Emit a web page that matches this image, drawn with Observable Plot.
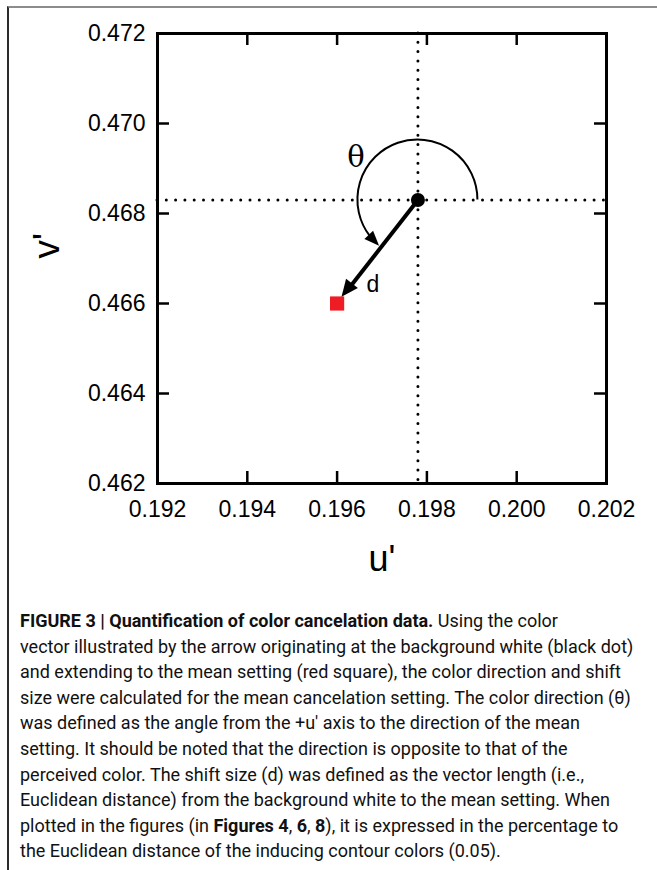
<!DOCTYPE html>
<html>
<head>
<meta charset="utf-8">
<script src="https://cdn.jsdelivr.net/npm/d3@7"></script>
<script src="https://cdn.jsdelivr.net/npm/@observablehq/plot@0.6"></script>
<style>
  html, body { margin: 0; padding: 0; background: #fff; }
  body { width: 657px; height: 870px; position: relative; overflow: hidden; }
  #box { position: absolute; left: 7px; top: 6px; right: -2px; bottom: -2px;
         border-top: 2px solid #8c8c8c; border-left: 2px solid #2b2b2b; }
  #chart { position: absolute; left: 0; top: 0; }
  #caption { position: absolute; left: 20px; top: 608px; font-family: "Liberation Sans Narrow", "Arial Narrow", "Roboto", sans-serif;
             font-size: 18px; line-height: 25.6px; color: #111; white-space: nowrap; }
  #caption b { font-weight: bold; }
</style>
</head>
<body>
<div id="box"></div>
<div id="chart"></div>
<div id="caption">
<div><b>FIGURE 3 | Quantification of color cancelation data.</b> Using the color</div>
<div>vector illustrated by the arrow originating at the background white (black dot)</div>
<div>and extending to the mean setting (red square), the color direction and shift</div>
<div>size were calculated for the mean cancelation setting. The color direction (θ)</div>
<div>was defined as the angle from the +u′ axis to the direction of the mean</div>
<div>setting. It should be noted that the direction is opposite to that of the</div>
<div>perceived color. The shift size (d) was defined as the vector length (i.e.,</div>
<div>Euclidean distance) from the background white to the mean setting. When</div>
<div>plotted in the figures (in <b>Figures 4</b>, <b>6</b>, <b>8</b>), it is expressed in the percentage to</div>
<div>the Euclidean distance of the inducing contour colors (0.05).</div>
</div>
<script>
// ---- data ----
const pointNames = ["background white", "mean setting"];
const uValues = [0.1978, 0.1960];
const vValues = [0.4683, 0.4660];
const xTicks = [0.192, 0.194, 0.196, 0.198, 0.200, 0.202];
const yTicks = [0.462, 0.464, 0.466, 0.468, 0.470, 0.472];
const xDomain = [0.192, 0.202];
const yDomain = [0.462, 0.472];
const xLabel = "u'";
const yLabel = "v'";
const angleLabel = "θ";
const lengthLabel = "d";

const W = 657, H = 600;
const mL = 157, mR = 51, mT = 33, mB = 117;
const fw = W - mL - mR, fh = H - mT - mB;
const tick = 12;

const white = [{name: pointNames[0], u: uValues[0], v: vValues[0]}];
const mean = [{name: pointNames[1], u: uValues[1], v: vValues[1]}];
const vec = [{u1: uValues[0], v1: vValues[0], u2: uValues[1], v2: vValues[1]}];

// custom mark: angle arc with arrowhead, and filled arrowhead of the vector
function annot(index, scales) {
  const ns = "http://www.w3.org/2000/svg";
  const g = document.createElementNS(ns, "g");
  const cx = scales.x(uValues[0]), cy = scales.y(vValues[0]);
  const mx = scales.x(uValues[1]), my = scales.y(vValues[1]);
  // vector arrowhead
  const L = Math.hypot(mx - cx, my - cy);
  const ux = (mx - cx) / L, uy = (my - cy) / L;
  const tipIn = 8, hl = 17, hw = 7.5;
  const tx = mx - ux * tipIn, ty = my - uy * tipIn;
  const bx = tx - ux * hl, by = ty - uy * hl;
  const head = document.createElementNS(ns, "path");
  head.setAttribute("d", `M${tx},${ty}L${bx - uy * hw},${by + ux * hw}L${bx + uy * hw},${by - ux * hw}Z`);
  head.setAttribute("fill", "#000");
  g.appendChild(head);
  // arc
  const r = 60;
  const aVec = Math.atan2(-(my - cy), mx - cx) + 2 * Math.PI; // math angle
  const aEnd = aVec - 0.045;
  const aArcEnd = aEnd - 12 / r;
  const pt = a => [cx + r * Math.cos(a), cy - r * Math.sin(a)];
  const [sx, sy] = pt(0), [ex, ey] = pt(aArcEnd), [px, py] = pt(aEnd);
  const arc = document.createElementNS(ns, "path");
  arc.setAttribute("d", `M${sx},${sy}A${r},${r} 0 1 0 ${ex},${ey}`);
  arc.setAttribute("fill", "none");
  arc.setAttribute("stroke", "#000");
  arc.setAttribute("stroke-width", 2);
  g.appendChild(arc);
  // arc arrowhead (tangent direction)
  const dx = px - ex, dy = py - ey, dl = Math.hypot(dx, dy);
  const tX = dx / dl, tY = dy / dl;
  const ah = 14, aw = 6;
  const hx = px - tX * ah, hy = py - tY * ah;
  const ahead = document.createElementNS(ns, "path");
  ahead.setAttribute("d", `M${px + tX},${py + tY}L${hx - tY * aw},${hy + tX * aw}L${hx + tY * aw},${hy - tX * aw}Z`);
  ahead.setAttribute("fill", "#000");
  g.appendChild(ahead);
  return g;
}

const chart = Plot.plot({
  width: W, height: H,
  marginLeft: mL, marginRight: mR, marginTop: mT, marginBottom: mB,
  style: {fontFamily: "'Liberation Sans', Arial, sans-serif", color: "#000", background: "transparent"},
  x: {domain: xDomain, nice: false},
  y: {domain: yDomain, nice: false},
  marks: [
    Plot.ruleX(white, {x: "u", stroke: "#000", strokeWidth: 3, strokeDasharray: "0,9.3", strokeLinecap: "round"}),
    Plot.ruleY(white, {y: "v", stroke: "#000", strokeWidth: 3, strokeDasharray: "0,9.3", strokeLinecap: "round"}),
    Plot.ruleX(xTicks, {insetTop: fh - tick, stroke: "#000", strokeWidth: 2.5}),
    Plot.ruleX(xTicks, {insetBottom: fh - tick, stroke: "#000", strokeWidth: 2.5}),
    Plot.ruleY(yTicks, {insetRight: fw - tick, stroke: "#000", strokeWidth: 2.5}),
    Plot.ruleY(yTicks, {insetLeft: fw - tick, stroke: "#000", strokeWidth: 2.5}),
    Plot.frame({stroke: "#000", strokeWidth: 3}),
    Plot.axisX({ticks: xTicks, tickSize: 0, tickPadding: 17, fontSize: 23, tickFormat: d3.format(".3f"), label: null}),
    Plot.axisY({ticks: yTicks, tickSize: 0, tickPadding: 12, fontSize: 23, tickFormat: d3.format(".3f"), label: null}),
    Plot.text([xLabel], {frameAnchor: "bottom", dy: 87, fontSize: 36, fill: "#000"}),
    Plot.text([yLabel], {frameAnchor: "left", dx: -110, rotate: -90, fontSize: 37, fill: "#000"}),
    Plot.dot(mean, {x: "u", y: "v", symbol: "square", r: 8, fill: "#ee1c24", stroke: null}),
    Plot.arrow(vec, {x1: "u1", y1: "v1", x2: "u2", y2: "v2", headLength: 0, insetEnd: 20, strokeWidth: 4, stroke: "#000", strokeLinecap: "butt"}),
    annot,
    Plot.dot(white, {x: "u", y: "v", r: 7, fill: "#000", stroke: null}),
    Plot.text(white, {x: "u", y: "v", text: () => angleLabel, dx: -62, dy: -42, fontSize: 29, fontFamily: "'DejaVu Serif', 'Liberation Serif', serif", fill: "#000"}),
    Plot.text(white, {x: "u", y: "v", text: () => lengthLabel, dx: -45, dy: 85, fontSize: 23, fill: "#000"})
  ]
});
document.getElementById("chart").appendChild(chart);
</script>
</body>
</html>
